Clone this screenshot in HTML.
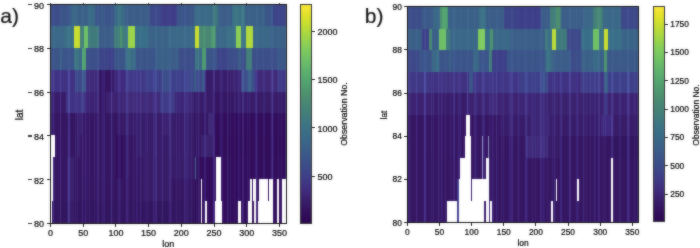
<!DOCTYPE html>
<html><head><meta charset="utf-8"><style>
html,body{margin:0;padding:0;background:#fff;}
body{width:700px;height:248px;position:relative;overflow:hidden;font-family:'Liberation Sans', sans-serif;}
.t{position:absolute;line-height:1;color:#000;white-space:nowrap;font-family:'Liberation Sans',sans-serif;filter:grayscale(1);-webkit-text-stroke:0.2px #000;}
</style></head><body>
<svg width="0" height="0" style="position:absolute"><filter id="fb" x="0" y="0" width="100%" height="100%" color-interpolation-filters="sRGB"><feGaussianBlur in="SourceGraphic" stdDeviation="0.8" result="b"/><feComposite in="b" in2="SourceGraphic" operator="arithmetic" k1="0" k2="0.5" k3="0.5" k4="0"/></filter></svg><div id="w" style="position:absolute;left:0;top:0;width:700px;height:248px;filter:url(#fb)">
<div style="position:absolute;left:50.50px;top:4.45px;width:235.50px;height:218.90px;overflow:hidden"><svg width="235.50" height="218.90" viewBox="0 0 235.50 218.90" style="position:absolute;left:0;top:0"><defs><linearGradient id="hm1_0" x1="0" y1="0" x2="1" y2="0"><stop offset="0.00000" stop-color="#3c4e89"/><stop offset="0.03611" stop-color="#3c4e89"/><stop offset="0.03611" stop-color="#3b5589"/><stop offset="0.08333" stop-color="#3b5589"/><stop offset="0.08333" stop-color="#3a6787"/><stop offset="0.10833" stop-color="#3a6787"/><stop offset="0.10833" stop-color="#3b6188"/><stop offset="0.15556" stop-color="#3b6188"/><stop offset="0.15556" stop-color="#3a6b87"/><stop offset="0.18611" stop-color="#3a6b87"/><stop offset="0.18611" stop-color="#3b5589"/><stop offset="0.21111" stop-color="#3b5589"/><stop offset="0.21111" stop-color="#3b5f88"/><stop offset="0.21944" stop-color="#3b5f88"/><stop offset="0.21944" stop-color="#3b5589"/><stop offset="0.26667" stop-color="#3b5589"/><stop offset="0.26667" stop-color="#3a6b87"/><stop offset="0.28611" stop-color="#3a6b87"/><stop offset="0.28611" stop-color="#3d7484"/><stop offset="0.29722" stop-color="#3d7484"/><stop offset="0.29722" stop-color="#3a6b87"/><stop offset="0.31389" stop-color="#3a6b87"/><stop offset="0.31389" stop-color="#3b5d88"/><stop offset="0.42222" stop-color="#3b5d88"/><stop offset="0.42222" stop-color="#3d4989"/><stop offset="0.46667" stop-color="#3d4989"/><stop offset="0.46667" stop-color="#3f3d87"/><stop offset="0.53333" stop-color="#3f3d87"/><stop offset="0.53333" stop-color="#3b5589"/><stop offset="0.60556" stop-color="#3b5589"/><stop offset="0.60556" stop-color="#3a6b87"/><stop offset="0.68889" stop-color="#3a6b87"/><stop offset="0.68889" stop-color="#407a7c"/><stop offset="0.70556" stop-color="#407a7c"/><stop offset="0.70556" stop-color="#3a6b87"/><stop offset="0.71389" stop-color="#3a6b87"/><stop offset="0.71389" stop-color="#3b5d88"/><stop offset="0.76944" stop-color="#3b5d88"/><stop offset="0.76944" stop-color="#3b6f86"/><stop offset="0.78056" stop-color="#3b6f86"/><stop offset="0.78056" stop-color="#3e7683"/><stop offset="0.79444" stop-color="#3e7683"/><stop offset="0.79444" stop-color="#3b6f86"/><stop offset="0.80833" stop-color="#3b6f86"/><stop offset="0.80833" stop-color="#3e7683"/><stop offset="0.81944" stop-color="#3e7683"/><stop offset="0.81944" stop-color="#3b6f86"/><stop offset="0.82222" stop-color="#3b6f86"/><stop offset="0.82222" stop-color="#3b6188"/><stop offset="0.90833" stop-color="#3b6188"/><stop offset="0.90833" stop-color="#3b5589"/><stop offset="0.94444" stop-color="#3b5589"/><stop offset="0.94444" stop-color="#3d4588"/><stop offset="1.00000" stop-color="#3d4588"/></linearGradient><linearGradient id="hm1_1" x1="0" y1="0" x2="1" y2="0"><stop offset="0.00000" stop-color="#3a6787"/><stop offset="0.06111" stop-color="#3a6787"/><stop offset="0.06111" stop-color="#3b7186"/><stop offset="0.09722" stop-color="#3b7186"/><stop offset="0.09722" stop-color="#cade2f"/><stop offset="0.12361" stop-color="#cade2f"/><stop offset="0.12361" stop-color="#427e7a"/><stop offset="0.13889" stop-color="#427e7a"/><stop offset="0.13889" stop-color="#6ec066"/><stop offset="0.15694" stop-color="#6ec066"/><stop offset="0.15694" stop-color="#407a7c"/><stop offset="0.20417" stop-color="#407a7c"/><stop offset="0.20417" stop-color="#3b5d88"/><stop offset="0.26667" stop-color="#3b5d88"/><stop offset="0.26667" stop-color="#427e7a"/><stop offset="0.29167" stop-color="#427e7a"/><stop offset="0.29167" stop-color="#4e936e"/><stop offset="0.30278" stop-color="#4e936e"/><stop offset="0.30278" stop-color="#427e7a"/><stop offset="0.31389" stop-color="#427e7a"/><stop offset="0.31389" stop-color="#3d7484"/><stop offset="0.32778" stop-color="#3d7484"/><stop offset="0.32778" stop-color="#9dd548"/><stop offset="0.35694" stop-color="#9dd548"/><stop offset="0.35694" stop-color="#396e88"/><stop offset="0.41111" stop-color="#396e88"/><stop offset="0.41111" stop-color="#3b6388"/><stop offset="0.49722" stop-color="#3b6388"/><stop offset="0.49722" stop-color="#3a6987"/><stop offset="0.61111" stop-color="#3a6987"/><stop offset="0.61111" stop-color="#cade2f"/><stop offset="0.62639" stop-color="#cade2f"/><stop offset="0.62639" stop-color="#488773"/><stop offset="0.64444" stop-color="#488773"/><stop offset="0.64444" stop-color="#4e936e"/><stop offset="0.65556" stop-color="#4e936e"/><stop offset="0.65556" stop-color="#488773"/><stop offset="0.68056" stop-color="#488773"/><stop offset="0.68056" stop-color="#4f9a6f"/><stop offset="0.69722" stop-color="#4f9a6f"/><stop offset="0.69722" stop-color="#488773"/><stop offset="0.70000" stop-color="#488773"/><stop offset="0.70000" stop-color="#3a6987"/><stop offset="0.75278" stop-color="#3a6987"/><stop offset="0.75278" stop-color="#3b7186"/><stop offset="0.78750" stop-color="#3b7186"/><stop offset="0.78750" stop-color="#8bd055"/><stop offset="0.80556" stop-color="#8bd055"/><stop offset="0.80556" stop-color="#3d7484"/><stop offset="0.82639" stop-color="#3d7484"/><stop offset="0.82639" stop-color="#b1d93d"/><stop offset="0.85972" stop-color="#b1d93d"/><stop offset="0.85972" stop-color="#3a6787"/><stop offset="0.93056" stop-color="#3a6787"/><stop offset="0.93056" stop-color="#3b6188"/><stop offset="1.00000" stop-color="#3b6188"/></linearGradient><linearGradient id="hm1_2" x1="0" y1="0" x2="1" y2="0"><stop offset="0.00000" stop-color="#3b5589"/><stop offset="0.03611" stop-color="#3b5589"/><stop offset="0.03611" stop-color="#3b6188"/><stop offset="0.04722" stop-color="#3b6188"/><stop offset="0.04722" stop-color="#3b5589"/><stop offset="0.09722" stop-color="#3b5589"/><stop offset="0.09722" stop-color="#3d7484"/><stop offset="0.12083" stop-color="#3d7484"/><stop offset="0.12083" stop-color="#3a6787"/><stop offset="0.13333" stop-color="#3a6787"/><stop offset="0.13333" stop-color="#53a470"/><stop offset="0.15000" stop-color="#53a470"/><stop offset="0.15000" stop-color="#3c5089"/><stop offset="0.20278" stop-color="#3c5089"/><stop offset="0.20278" stop-color="#3d4588"/><stop offset="0.24444" stop-color="#3d4588"/><stop offset="0.24444" stop-color="#3e4088"/><stop offset="0.26667" stop-color="#3e4088"/><stop offset="0.26667" stop-color="#3b5589"/><stop offset="0.31389" stop-color="#3b5589"/><stop offset="0.31389" stop-color="#3a6b87"/><stop offset="0.32500" stop-color="#3a6b87"/><stop offset="0.32500" stop-color="#3d7484"/><stop offset="0.33889" stop-color="#3d7484"/><stop offset="0.33889" stop-color="#3a6b87"/><stop offset="0.36250" stop-color="#3a6b87"/><stop offset="0.36250" stop-color="#3b5589"/><stop offset="0.44444" stop-color="#3b5589"/><stop offset="0.44444" stop-color="#3b6188"/><stop offset="0.50556" stop-color="#3b6188"/><stop offset="0.50556" stop-color="#3b5d88"/><stop offset="0.54444" stop-color="#3b5d88"/><stop offset="0.54444" stop-color="#3c4e89"/><stop offset="0.61111" stop-color="#3c4e89"/><stop offset="0.61111" stop-color="#3d7484"/><stop offset="0.62778" stop-color="#3d7484"/><stop offset="0.62778" stop-color="#3a6787"/><stop offset="0.64167" stop-color="#3a6787"/><stop offset="0.64167" stop-color="#4f9a6f"/><stop offset="0.65833" stop-color="#4f9a6f"/><stop offset="0.65833" stop-color="#3b5589"/><stop offset="0.70278" stop-color="#3b5589"/><stop offset="0.70278" stop-color="#3d4588"/><stop offset="0.75278" stop-color="#3d4588"/><stop offset="0.75278" stop-color="#3c4e89"/><stop offset="0.79444" stop-color="#3c4e89"/><stop offset="0.79444" stop-color="#3b6188"/><stop offset="0.80556" stop-color="#3b6188"/><stop offset="0.80556" stop-color="#3c5089"/><stop offset="0.82917" stop-color="#3c5089"/><stop offset="0.82917" stop-color="#427e7a"/><stop offset="0.85278" stop-color="#427e7a"/><stop offset="0.85278" stop-color="#3c5089"/><stop offset="0.95833" stop-color="#3c5089"/><stop offset="0.95833" stop-color="#3b5889"/><stop offset="1.00000" stop-color="#3b5889"/></linearGradient><linearGradient id="hm1_3" x1="0" y1="0" x2="1" y2="0"><stop offset="0.00000" stop-color="#403282"/><stop offset="0.10000" stop-color="#403282"/><stop offset="0.10000" stop-color="#3d4989"/><stop offset="0.13333" stop-color="#3d4989"/><stop offset="0.13333" stop-color="#3b5a88"/><stop offset="0.14444" stop-color="#3b5a88"/><stop offset="0.14444" stop-color="#3d4989"/><stop offset="0.14722" stop-color="#3d4989"/><stop offset="0.14722" stop-color="#3f2978"/><stop offset="0.20278" stop-color="#3f2978"/><stop offset="0.20278" stop-color="#351662"/><stop offset="0.26944" stop-color="#351662"/><stop offset="0.26944" stop-color="#402c7e"/><stop offset="0.31389" stop-color="#402c7e"/><stop offset="0.31389" stop-color="#3f3785"/><stop offset="0.40278" stop-color="#3f3785"/><stop offset="0.40278" stop-color="#3e4088"/><stop offset="0.46944" stop-color="#3e4088"/><stop offset="0.46944" stop-color="#3c4e89"/><stop offset="0.50556" stop-color="#3c4e89"/><stop offset="0.50556" stop-color="#3e4088"/><stop offset="0.58611" stop-color="#3e4088"/><stop offset="0.58611" stop-color="#3d4989"/><stop offset="0.60556" stop-color="#3d4989"/><stop offset="0.60556" stop-color="#3b5a88"/><stop offset="0.61389" stop-color="#3b5a88"/><stop offset="0.61389" stop-color="#3d4989"/><stop offset="0.64167" stop-color="#3d4989"/><stop offset="0.64167" stop-color="#3b5a88"/><stop offset="0.65000" stop-color="#3b5a88"/><stop offset="0.65000" stop-color="#3d4989"/><stop offset="0.65278" stop-color="#3d4989"/><stop offset="0.65278" stop-color="#391e6a"/><stop offset="0.76389" stop-color="#391e6a"/><stop offset="0.76389" stop-color="#3c2471"/><stop offset="0.80833" stop-color="#3c2471"/><stop offset="0.80833" stop-color="#3c4e89"/><stop offset="0.83611" stop-color="#3c4e89"/><stop offset="0.83611" stop-color="#3b6188"/><stop offset="0.85278" stop-color="#3b6188"/><stop offset="0.85278" stop-color="#3c4e89"/><stop offset="0.86667" stop-color="#3c4e89"/><stop offset="0.86667" stop-color="#3f2978"/><stop offset="0.95833" stop-color="#3f2978"/><stop offset="0.95833" stop-color="#3f3785"/><stop offset="1.00000" stop-color="#3f3785"/></linearGradient><linearGradient id="hm1_4" x1="0" y1="0" x2="1" y2="0"><stop offset="0.00000" stop-color="#391e6a"/><stop offset="0.06389" stop-color="#391e6a"/><stop offset="0.06389" stop-color="#403282"/><stop offset="0.12222" stop-color="#403282"/><stop offset="0.12222" stop-color="#3f3b86"/><stop offset="0.14167" stop-color="#3f3b86"/><stop offset="0.14167" stop-color="#403282"/><stop offset="0.14444" stop-color="#403282"/><stop offset="0.14444" stop-color="#3c2471"/><stop offset="0.20278" stop-color="#3c2471"/><stop offset="0.20278" stop-color="#351662"/><stop offset="0.23333" stop-color="#351662"/><stop offset="0.23333" stop-color="#3c2471"/><stop offset="0.30000" stop-color="#3c2471"/><stop offset="0.30000" stop-color="#3f2978"/><stop offset="0.46111" stop-color="#3f2978"/><stop offset="0.46111" stop-color="#3f3b86"/><stop offset="0.52778" stop-color="#3f3b86"/><stop offset="0.52778" stop-color="#3d2675"/><stop offset="0.60833" stop-color="#3d2675"/><stop offset="0.60833" stop-color="#391e6a"/><stop offset="0.68889" stop-color="#391e6a"/><stop offset="0.68889" stop-color="#351662"/><stop offset="0.77778" stop-color="#351662"/><stop offset="0.77778" stop-color="#391e6a"/><stop offset="0.86667" stop-color="#391e6a"/><stop offset="0.86667" stop-color="#381b67"/><stop offset="1.00000" stop-color="#381b67"/></linearGradient><linearGradient id="hm1_5" x1="0" y1="0" x2="1" y2="0"><stop offset="0.00000" stop-color="#351662"/><stop offset="0.10833" stop-color="#351662"/><stop offset="0.10833" stop-color="#3c2471"/><stop offset="0.13056" stop-color="#3c2471"/><stop offset="0.13056" stop-color="#361864"/><stop offset="0.30000" stop-color="#361864"/><stop offset="0.30000" stop-color="#391e6a"/><stop offset="0.47222" stop-color="#391e6a"/><stop offset="0.47222" stop-color="#3c2471"/><stop offset="0.50556" stop-color="#3c2471"/><stop offset="0.50556" stop-color="#391e6a"/><stop offset="0.60833" stop-color="#391e6a"/><stop offset="0.60833" stop-color="#351662"/><stop offset="0.66667" stop-color="#351662"/><stop offset="0.66667" stop-color="#3f2978"/><stop offset="0.68889" stop-color="#3f2978"/><stop offset="0.68889" stop-color="#32105c"/><stop offset="1.00000" stop-color="#32105c"/></linearGradient><linearGradient id="hm1_6" x1="0" y1="0" x2="1" y2="0"><stop offset="0.00000" stop-color="#ffffff"/><stop offset="0.01667" stop-color="#ffffff"/><stop offset="0.01667" stop-color="#361864"/><stop offset="0.10833" stop-color="#361864"/><stop offset="0.10833" stop-color="#3c2471"/><stop offset="0.12222" stop-color="#3c2471"/><stop offset="0.12222" stop-color="#361864"/><stop offset="0.27778" stop-color="#361864"/><stop offset="0.27778" stop-color="#32105c"/><stop offset="0.30556" stop-color="#32105c"/><stop offset="0.30556" stop-color="#361864"/><stop offset="0.36111" stop-color="#361864"/><stop offset="0.36111" stop-color="#391e6a"/><stop offset="0.60833" stop-color="#391e6a"/><stop offset="0.60833" stop-color="#361864"/><stop offset="0.63889" stop-color="#361864"/><stop offset="0.63889" stop-color="#3a216e"/><stop offset="0.68889" stop-color="#3a216e"/><stop offset="0.68889" stop-color="#361864"/><stop offset="0.69722" stop-color="#361864"/><stop offset="0.69722" stop-color="#310e5a"/><stop offset="1.00000" stop-color="#310e5a"/></linearGradient><linearGradient id="hm1_7" x1="0" y1="0" x2="1" y2="0"><stop offset="0.00000" stop-color="#ffffff"/><stop offset="0.00694" stop-color="#ffffff"/><stop offset="0.00694" stop-color="#361864"/><stop offset="0.06944" stop-color="#361864"/><stop offset="0.06944" stop-color="#3a216e"/><stop offset="0.09722" stop-color="#3a216e"/><stop offset="0.09722" stop-color="#361864"/><stop offset="0.27778" stop-color="#361864"/><stop offset="0.27778" stop-color="#32105c"/><stop offset="0.30556" stop-color="#32105c"/><stop offset="0.30556" stop-color="#361864"/><stop offset="0.38889" stop-color="#361864"/><stop offset="0.38889" stop-color="#381b67"/><stop offset="0.61111" stop-color="#381b67"/><stop offset="0.61111" stop-color="#32105c"/><stop offset="0.61250" stop-color="#32105c"/><stop offset="0.61250" stop-color="#3b6188"/><stop offset="0.61528" stop-color="#3b6188"/><stop offset="0.61528" stop-color="#32105c"/><stop offset="0.69861" stop-color="#32105c"/><stop offset="0.69861" stop-color="#ffffff"/><stop offset="0.72083" stop-color="#ffffff"/><stop offset="0.72083" stop-color="#32105c"/><stop offset="1.00000" stop-color="#32105c"/></linearGradient><linearGradient id="hm1_8" x1="0" y1="0" x2="1" y2="0"><stop offset="0.00000" stop-color="#ffffff"/><stop offset="0.00694" stop-color="#ffffff"/><stop offset="0.00694" stop-color="#351662"/><stop offset="0.06944" stop-color="#351662"/><stop offset="0.06944" stop-color="#3a216e"/><stop offset="0.09722" stop-color="#3a216e"/><stop offset="0.09722" stop-color="#351662"/><stop offset="0.38889" stop-color="#351662"/><stop offset="0.38889" stop-color="#381b67"/><stop offset="0.50556" stop-color="#381b67"/><stop offset="0.50556" stop-color="#351662"/><stop offset="0.61111" stop-color="#351662"/><stop offset="0.61111" stop-color="#32105c"/><stop offset="0.63611" stop-color="#32105c"/><stop offset="0.63611" stop-color="#ffffff"/><stop offset="0.64306" stop-color="#ffffff"/><stop offset="0.64306" stop-color="#32105c"/><stop offset="0.69861" stop-color="#32105c"/><stop offset="0.69861" stop-color="#ffffff"/><stop offset="0.72083" stop-color="#ffffff"/><stop offset="0.72083" stop-color="#32105c"/><stop offset="0.84306" stop-color="#32105c"/><stop offset="0.84306" stop-color="#ffffff"/><stop offset="0.85556" stop-color="#ffffff"/><stop offset="0.85556" stop-color="#32105c"/><stop offset="0.85972" stop-color="#32105c"/><stop offset="0.85972" stop-color="#ffffff"/><stop offset="0.87083" stop-color="#ffffff"/><stop offset="0.87083" stop-color="#32105c"/><stop offset="0.88333" stop-color="#32105c"/><stop offset="0.88333" stop-color="#ffffff"/><stop offset="0.92222" stop-color="#ffffff"/><stop offset="0.92222" stop-color="#32105c"/><stop offset="0.92639" stop-color="#32105c"/><stop offset="0.92639" stop-color="#ffffff"/><stop offset="0.94444" stop-color="#ffffff"/><stop offset="0.94444" stop-color="#32105c"/><stop offset="0.96111" stop-color="#32105c"/><stop offset="0.96111" stop-color="#ffffff"/><stop offset="0.96806" stop-color="#ffffff"/><stop offset="0.96806" stop-color="#32105c"/><stop offset="0.98056" stop-color="#32105c"/><stop offset="0.98056" stop-color="#ffffff"/><stop offset="1.00000" stop-color="#ffffff"/></linearGradient><linearGradient id="hm1_9" x1="0" y1="0" x2="1" y2="0"><stop offset="0.00000" stop-color="#ffffff"/><stop offset="0.00417" stop-color="#ffffff"/><stop offset="0.00417" stop-color="#33135f"/><stop offset="0.06944" stop-color="#33135f"/><stop offset="0.06944" stop-color="#381b67"/><stop offset="0.09722" stop-color="#381b67"/><stop offset="0.09722" stop-color="#33135f"/><stop offset="0.61111" stop-color="#33135f"/><stop offset="0.61111" stop-color="#32105c"/><stop offset="0.63611" stop-color="#32105c"/><stop offset="0.63611" stop-color="#ffffff"/><stop offset="0.64306" stop-color="#ffffff"/><stop offset="0.64306" stop-color="#32105c"/><stop offset="0.65417" stop-color="#32105c"/><stop offset="0.65417" stop-color="#ffffff"/><stop offset="0.66250" stop-color="#ffffff"/><stop offset="0.66250" stop-color="#32105c"/><stop offset="0.69722" stop-color="#32105c"/><stop offset="0.69722" stop-color="#ffffff"/><stop offset="0.72639" stop-color="#ffffff"/><stop offset="0.72639" stop-color="#32105c"/><stop offset="0.79444" stop-color="#32105c"/><stop offset="0.79444" stop-color="#ffffff"/><stop offset="0.80833" stop-color="#ffffff"/><stop offset="0.80833" stop-color="#32105c"/><stop offset="0.83750" stop-color="#32105c"/><stop offset="0.83750" stop-color="#ffffff"/><stop offset="0.85556" stop-color="#ffffff"/><stop offset="0.85556" stop-color="#32105c"/><stop offset="0.86250" stop-color="#32105c"/><stop offset="0.86250" stop-color="#ffffff"/><stop offset="0.87083" stop-color="#ffffff"/><stop offset="0.87083" stop-color="#32105c"/><stop offset="0.87778" stop-color="#32105c"/><stop offset="0.87778" stop-color="#ffffff"/><stop offset="0.94444" stop-color="#ffffff"/><stop offset="0.94444" stop-color="#32105c"/><stop offset="0.96111" stop-color="#32105c"/><stop offset="0.96111" stop-color="#ffffff"/><stop offset="0.96806" stop-color="#ffffff"/><stop offset="0.96806" stop-color="#32105c"/><stop offset="0.98056" stop-color="#32105c"/><stop offset="0.98056" stop-color="#ffffff"/><stop offset="1.00000" stop-color="#ffffff"/></linearGradient><pattern id="hm1_pa" width="29" height="1" patternUnits="userSpaceOnUse"><rect x="2.0" y="0" width="1.2" height="1" fill="#12162a"/><rect x="9.0" y="0" width="0.8" height="1" fill="#0d1122"/><rect x="17.0" y="0" width="2.0" height="1" fill="#10142a"/><rect x="24.0" y="0" width="1.0" height="1" fill="#0a0e1c"/></pattern><pattern id="hm1_pb" width="17" height="1" patternUnits="userSpaceOnUse" x="5"><rect x="4.0" y="0" width="1.0" height="1" fill="#080b1a"/><rect x="12.0" y="0" width="1.5" height="1" fill="#0b1028"/></pattern><filter id="hm1_bl" x="-2%" y="-2%" width="104%" height="104%"><feGaussianBlur stdDeviation="0.60"/></filter></defs><g filter="url(#hm1_bl)"><rect x="0" y="0.000" width="235.500" height="22.490" fill="url(#hm1_0)" shape-rendering="crispEdges"/><rect x="0" y="21.890" width="235.500" height="22.490" fill="url(#hm1_1)" shape-rendering="crispEdges"/><rect x="0" y="43.780" width="235.500" height="22.490" fill="url(#hm1_2)" shape-rendering="crispEdges"/><rect x="0" y="65.670" width="235.500" height="22.490" fill="url(#hm1_3)" shape-rendering="crispEdges"/><rect x="0" y="87.560" width="235.500" height="22.490" fill="url(#hm1_4)" shape-rendering="crispEdges"/><rect x="0" y="109.450" width="235.500" height="22.490" fill="url(#hm1_5)" shape-rendering="crispEdges"/><rect x="0" y="131.340" width="235.500" height="22.490" fill="url(#hm1_6)" shape-rendering="crispEdges"/><rect x="0" y="153.230" width="235.500" height="22.490" fill="url(#hm1_7)" shape-rendering="crispEdges"/><rect x="0" y="175.120" width="235.500" height="22.490" fill="url(#hm1_8)" shape-rendering="crispEdges"/><rect x="0" y="197.010" width="235.500" height="21.890" fill="url(#hm1_9)" shape-rendering="crispEdges"/><rect x="0" y="65.67" width="235.50" height="153.23" fill="url(#hm1_pa)" style="mix-blend-mode:screen"/><rect x="0" y="65.67" width="235.50" height="153.23" fill="url(#hm1_pb)" style="mix-blend-mode:screen"/><rect x="0" y="0" width="235.50" height="65.67" fill="url(#hm1_pa)" style="mix-blend-mode:screen" opacity="0.45"/></g></svg></div>
<div style="position:absolute;left:50.00px;top:3.95px;width:236.50px;height:219.90px;border:1px solid #111;box-sizing:border-box"></div>
<div style="position:absolute;left:47.00px;top:3.95px;width:3px;height:1px;background:#222"></div>
<div class="t" style="right:656.00px;top:5.55px;font-size:9.00px;transform:translateY(-50%)">90</div>
<div style="position:absolute;left:28.10px;top:4.15px;width:3.6px;height:1.1px;background:#333"></div>
<div style="position:absolute;left:47.00px;top:47.73px;width:3px;height:1px;background:#222"></div>
<div class="t" style="right:656.00px;top:49.33px;font-size:9.00px;transform:translateY(-50%)">88</div>
<div style="position:absolute;left:28.10px;top:47.93px;width:3.6px;height:1.1px;background:#333"></div>
<div style="position:absolute;left:47.00px;top:91.51px;width:3px;height:1px;background:#222"></div>
<div class="t" style="right:656.00px;top:93.11px;font-size:9.00px;transform:translateY(-50%)">86</div>
<div style="position:absolute;left:28.10px;top:91.71px;width:3.6px;height:1.1px;background:#333"></div>
<div style="position:absolute;left:47.00px;top:135.29px;width:3px;height:1px;background:#222"></div>
<div class="t" style="right:656.00px;top:136.89px;font-size:9.00px;transform:translateY(-50%)">84</div>
<div style="position:absolute;left:28.10px;top:135.49px;width:3.6px;height:1.1px;background:#333"></div>
<div style="position:absolute;left:47.00px;top:179.07px;width:3px;height:1px;background:#222"></div>
<div class="t" style="right:656.00px;top:180.67px;font-size:9.00px;transform:translateY(-50%)">82</div>
<div style="position:absolute;left:28.10px;top:179.27px;width:3.6px;height:1.1px;background:#333"></div>
<div style="position:absolute;left:47.00px;top:222.85px;width:3px;height:1px;background:#222"></div>
<div class="t" style="right:656.00px;top:224.45px;font-size:9.00px;transform:translateY(-50%)">80</div>
<div style="position:absolute;left:28.10px;top:223.05px;width:3.6px;height:1.1px;background:#333"></div>
<div style="position:absolute;left:50.00px;top:223.85px;width:1px;height:3px;background:#222"></div>
<div class="t" style="left:50.50px;top:229.00px;font-size:9.00px;transform:translateX(-50%)">0</div>
<div style="position:absolute;left:82.71px;top:223.85px;width:1px;height:3px;background:#222"></div>
<div class="t" style="left:83.21px;top:229.00px;font-size:9.00px;transform:translateX(-50%)">50</div>
<div style="position:absolute;left:115.42px;top:223.85px;width:1px;height:3px;background:#222"></div>
<div class="t" style="left:115.92px;top:229.00px;font-size:9.00px;transform:translateX(-50%)">100</div>
<div style="position:absolute;left:148.12px;top:223.85px;width:1px;height:3px;background:#222"></div>
<div class="t" style="left:148.62px;top:229.00px;font-size:9.00px;transform:translateX(-50%)">150</div>
<div style="position:absolute;left:180.83px;top:223.85px;width:1px;height:3px;background:#222"></div>
<div class="t" style="left:181.33px;top:229.00px;font-size:9.00px;transform:translateX(-50%)">200</div>
<div style="position:absolute;left:213.54px;top:223.85px;width:1px;height:3px;background:#222"></div>
<div class="t" style="left:214.04px;top:229.00px;font-size:9.00px;transform:translateX(-50%)">250</div>
<div style="position:absolute;left:246.25px;top:223.85px;width:1px;height:3px;background:#222"></div>
<div class="t" style="left:246.75px;top:229.00px;font-size:9.00px;transform:translateX(-50%)">300</div>
<div style="position:absolute;left:278.96px;top:223.85px;width:1px;height:3px;background:#222"></div>
<div class="t" style="left:279.46px;top:229.00px;font-size:9.00px;transform:translateX(-50%)">350</div>
<div style="position:absolute;left:50.00px;top:2.65px;width:1px;height:1.5px;background:#333"></div>
<div style="position:absolute;left:82.71px;top:2.65px;width:1px;height:1.5px;background:#333"></div>
<div style="position:absolute;left:115.42px;top:2.65px;width:1px;height:1.5px;background:#333"></div>
<div style="position:absolute;left:148.12px;top:2.65px;width:1px;height:1.5px;background:#333"></div>
<div style="position:absolute;left:180.83px;top:2.65px;width:1px;height:1.5px;background:#333"></div>
<div style="position:absolute;left:213.54px;top:2.65px;width:1px;height:1.5px;background:#333"></div>
<div style="position:absolute;left:246.25px;top:2.65px;width:1px;height:1.5px;background:#333"></div>
<div style="position:absolute;left:278.96px;top:2.65px;width:1px;height:1.5px;background:#333"></div>
<div class="t" style="left:168.25px;top:239.50px;font-size:9.00px;transform:translateX(-50%)">lon</div>
<div class="t" style="left:19.50px;top:115.10px;font-size:10.00px;transform:translate(-50%,-50%) rotate(-90deg)">lat</div>
<div style="position:absolute;left:300.20px;top:4.50px;width:11.30px;height:218.50px;background:linear-gradient(to bottom,#fae637 0.0%,#dde12a 5.0%,#bddc35 10.0%,#9dd548 15.0%,#80cc5d 20.0%,#6ec066 25.0%,#5eb26d 30.0%,#53a470 35.0%,#4e936e 40.0%,#488773 45.0%,#427e7a 50.0%,#3d7484 55.0%,#3a6b87 60.0%,#3b6188 65.0%,#3b5589 70.0%,#3d4989 75.0%,#3f3b86 80.0%,#402c7e 85.0%,#391e6a 90.0%,#32105c 95.0%,#2c0650 100.0%)"></div>
<div style="position:absolute;left:299.70px;top:4.00px;width:12.30px;height:219.50px;border:1px solid #333;box-sizing:border-box"></div>
<div style="position:absolute;left:312.00px;top:30.50px;width:3px;height:1px;background:#222"></div>
<div class="t" style="left:317.50px;top:31.80px;font-size:9.00px;transform:translateY(-50%)">2000</div>
<div style="position:absolute;left:312.00px;top:78.90px;width:3px;height:1px;background:#222"></div>
<div class="t" style="left:317.50px;top:80.20px;font-size:9.00px;transform:translateY(-50%)">1500</div>
<div style="position:absolute;left:312.00px;top:127.20px;width:3px;height:1px;background:#222"></div>
<div class="t" style="left:317.50px;top:128.50px;font-size:9.00px;transform:translateY(-50%)">1000</div>
<div style="position:absolute;left:312.00px;top:175.80px;width:3px;height:1px;background:#222"></div>
<div class="t" style="left:317.50px;top:177.10px;font-size:9.00px;transform:translateY(-50%)">500</div>
<div class="t" style="left:344.00px;top:114.15px;font-size:8.80px;transform:translate(-50%,-50%) rotate(-90deg)">Observation No.</div>
<div style="position:absolute;left:407.30px;top:6.90px;width:231.50px;height:215.30px;overflow:hidden"><svg width="231.50" height="215.30" viewBox="0 0 231.50 215.30" style="position:absolute;left:0;top:0"><defs><linearGradient id="hm2_0" x1="0" y1="0" x2="1" y2="0"><stop offset="0.00000" stop-color="#3c4e89"/><stop offset="0.06389" stop-color="#3c4e89"/><stop offset="0.06389" stop-color="#3b5a88"/><stop offset="0.11250" stop-color="#3b5a88"/><stop offset="0.11250" stop-color="#3a6787"/><stop offset="0.14306" stop-color="#3a6787"/><stop offset="0.14306" stop-color="#4e936e"/><stop offset="0.15000" stop-color="#4e936e"/><stop offset="0.15000" stop-color="#53a470"/><stop offset="0.17222" stop-color="#53a470"/><stop offset="0.17222" stop-color="#4e936e"/><stop offset="0.17917" stop-color="#4e936e"/><stop offset="0.17917" stop-color="#3b6188"/><stop offset="0.31111" stop-color="#3b6188"/><stop offset="0.31111" stop-color="#3b6f86"/><stop offset="0.34167" stop-color="#3b6f86"/><stop offset="0.34167" stop-color="#3b5d88"/><stop offset="0.41944" stop-color="#3b5d88"/><stop offset="0.41944" stop-color="#3d4588"/><stop offset="0.47222" stop-color="#3d4588"/><stop offset="0.47222" stop-color="#3e4088"/><stop offset="0.58056" stop-color="#3e4088"/><stop offset="0.58056" stop-color="#3b5d88"/><stop offset="0.61667" stop-color="#3b5d88"/><stop offset="0.61667" stop-color="#427e7a"/><stop offset="0.64167" stop-color="#427e7a"/><stop offset="0.64167" stop-color="#4e8d6e"/><stop offset="0.66111" stop-color="#4e8d6e"/><stop offset="0.66111" stop-color="#427e7a"/><stop offset="0.66667" stop-color="#427e7a"/><stop offset="0.66667" stop-color="#3b5f88"/><stop offset="0.76667" stop-color="#3b5f88"/><stop offset="0.76667" stop-color="#3a6787"/><stop offset="0.80278" stop-color="#3a6787"/><stop offset="0.80278" stop-color="#427e7a"/><stop offset="0.81667" stop-color="#427e7a"/><stop offset="0.81667" stop-color="#488773"/><stop offset="0.83611" stop-color="#488773"/><stop offset="0.83611" stop-color="#427e7a"/><stop offset="0.84583" stop-color="#427e7a"/><stop offset="0.84583" stop-color="#3a6787"/><stop offset="0.92500" stop-color="#3a6787"/><stop offset="0.92500" stop-color="#3d4989"/><stop offset="1.00000" stop-color="#3d4989"/></linearGradient><linearGradient id="hm2_1" x1="0" y1="0" x2="1" y2="0"><stop offset="0.00000" stop-color="#3b6188"/><stop offset="0.06389" stop-color="#3b6188"/><stop offset="0.06389" stop-color="#3e4088"/><stop offset="0.09444" stop-color="#3e4088"/><stop offset="0.09444" stop-color="#488773"/><stop offset="0.10694" stop-color="#488773"/><stop offset="0.10694" stop-color="#3b6188"/><stop offset="0.13750" stop-color="#3b6188"/><stop offset="0.13750" stop-color="#6ec066"/><stop offset="0.16806" stop-color="#6ec066"/><stop offset="0.16806" stop-color="#407a7c"/><stop offset="0.18611" stop-color="#407a7c"/><stop offset="0.18611" stop-color="#3a6787"/><stop offset="0.30833" stop-color="#3a6787"/><stop offset="0.30833" stop-color="#80cc5d"/><stop offset="0.33750" stop-color="#80cc5d"/><stop offset="0.33750" stop-color="#396e88"/><stop offset="0.35694" stop-color="#396e88"/><stop offset="0.35694" stop-color="#4e936e"/><stop offset="0.37083" stop-color="#4e936e"/><stop offset="0.37083" stop-color="#3a6787"/><stop offset="0.44444" stop-color="#3a6787"/><stop offset="0.44444" stop-color="#3b5f88"/><stop offset="0.59444" stop-color="#3b5f88"/><stop offset="0.59444" stop-color="#427e7a"/><stop offset="0.60556" stop-color="#427e7a"/><stop offset="0.60556" stop-color="#3b7186"/><stop offset="0.62639" stop-color="#3b7186"/><stop offset="0.62639" stop-color="#bddc35"/><stop offset="0.64167" stop-color="#bddc35"/><stop offset="0.64167" stop-color="#407a7c"/><stop offset="0.69028" stop-color="#407a7c"/><stop offset="0.69028" stop-color="#3d4989"/><stop offset="0.75139" stop-color="#3d4989"/><stop offset="0.75139" stop-color="#396e88"/><stop offset="0.80278" stop-color="#396e88"/><stop offset="0.80278" stop-color="#6ec066"/><stop offset="0.82778" stop-color="#6ec066"/><stop offset="0.82778" stop-color="#3d7484"/><stop offset="0.85000" stop-color="#3d7484"/><stop offset="0.85000" stop-color="#cade2f"/><stop offset="0.86667" stop-color="#cade2f"/><stop offset="0.86667" stop-color="#396e88"/><stop offset="0.93056" stop-color="#396e88"/><stop offset="0.93056" stop-color="#3b6388"/><stop offset="1.00000" stop-color="#3b6388"/></linearGradient><linearGradient id="hm2_2" x1="0" y1="0" x2="1" y2="0"><stop offset="0.00000" stop-color="#3d4989"/><stop offset="0.05278" stop-color="#3d4989"/><stop offset="0.05278" stop-color="#3b5589"/><stop offset="0.10694" stop-color="#3b5589"/><stop offset="0.10694" stop-color="#3a6787"/><stop offset="0.12500" stop-color="#3a6787"/><stop offset="0.12500" stop-color="#3b6f86"/><stop offset="0.13750" stop-color="#3b6f86"/><stop offset="0.13750" stop-color="#3b5589"/><stop offset="0.18056" stop-color="#3b5589"/><stop offset="0.18056" stop-color="#3b6388"/><stop offset="0.19167" stop-color="#3b6388"/><stop offset="0.19167" stop-color="#3b5589"/><stop offset="0.28611" stop-color="#3b5589"/><stop offset="0.28611" stop-color="#3a6787"/><stop offset="0.31111" stop-color="#3a6787"/><stop offset="0.31111" stop-color="#3b5589"/><stop offset="0.35278" stop-color="#3b5589"/><stop offset="0.35278" stop-color="#427e7a"/><stop offset="0.36528" stop-color="#427e7a"/><stop offset="0.36528" stop-color="#3e4088"/><stop offset="0.43194" stop-color="#3e4088"/><stop offset="0.43194" stop-color="#3b5589"/><stop offset="0.59444" stop-color="#3b5589"/><stop offset="0.59444" stop-color="#3a6b87"/><stop offset="0.60556" stop-color="#3a6b87"/><stop offset="0.60556" stop-color="#3d7484"/><stop offset="0.61667" stop-color="#3d7484"/><stop offset="0.61667" stop-color="#3a6b87"/><stop offset="0.63056" stop-color="#3a6b87"/><stop offset="0.63056" stop-color="#3b5d88"/><stop offset="0.70278" stop-color="#3b5d88"/><stop offset="0.70278" stop-color="#3c4e89"/><stop offset="0.75000" stop-color="#3c4e89"/><stop offset="0.75000" stop-color="#3b6188"/><stop offset="0.80278" stop-color="#3b6188"/><stop offset="0.80278" stop-color="#3a6b87"/><stop offset="0.82778" stop-color="#3a6b87"/><stop offset="0.82778" stop-color="#3b6188"/><stop offset="0.85000" stop-color="#3b6188"/><stop offset="0.85000" stop-color="#4e936e"/><stop offset="0.86389" stop-color="#4e936e"/><stop offset="0.86389" stop-color="#3b5a88"/><stop offset="1.00000" stop-color="#3b5a88"/></linearGradient><linearGradient id="hm2_3" x1="0" y1="0" x2="1" y2="0"><stop offset="0.00000" stop-color="#3f3785"/><stop offset="0.09583" stop-color="#3f3785"/><stop offset="0.09583" stop-color="#403080"/><stop offset="0.26944" stop-color="#403080"/><stop offset="0.26944" stop-color="#3b5589"/><stop offset="0.28333" stop-color="#3b5589"/><stop offset="0.28333" stop-color="#403584"/><stop offset="0.48611" stop-color="#403584"/><stop offset="0.48611" stop-color="#3e4088"/><stop offset="0.57500" stop-color="#3e4088"/><stop offset="0.57500" stop-color="#3d4989"/><stop offset="0.58611" stop-color="#3d4989"/><stop offset="0.58611" stop-color="#3b5589"/><stop offset="0.59722" stop-color="#3b5589"/><stop offset="0.59722" stop-color="#3d4989"/><stop offset="0.60833" stop-color="#3d4989"/><stop offset="0.60833" stop-color="#403282"/><stop offset="0.73056" stop-color="#403282"/><stop offset="0.73056" stop-color="#3d2675"/><stop offset="0.74722" stop-color="#3d2675"/><stop offset="0.74722" stop-color="#3f3d87"/><stop offset="0.83611" stop-color="#3f3d87"/><stop offset="0.83611" stop-color="#403282"/><stop offset="0.85278" stop-color="#403282"/><stop offset="0.85278" stop-color="#3b6188"/><stop offset="0.86944" stop-color="#3b6188"/><stop offset="0.86944" stop-color="#3e4088"/><stop offset="1.00000" stop-color="#3e4088"/></linearGradient><linearGradient id="hm2_4" x1="0" y1="0" x2="1" y2="0"><stop offset="0.00000" stop-color="#3c2471"/><stop offset="0.12222" stop-color="#3c2471"/><stop offset="0.12222" stop-color="#391e6a"/><stop offset="0.25278" stop-color="#391e6a"/><stop offset="0.25278" stop-color="#3c2471"/><stop offset="0.35556" stop-color="#3c2471"/><stop offset="0.35556" stop-color="#3f2978"/><stop offset="0.39167" stop-color="#3f2978"/><stop offset="0.39167" stop-color="#3c2471"/><stop offset="0.48611" stop-color="#3c2471"/><stop offset="0.48611" stop-color="#3d2675"/><stop offset="0.60833" stop-color="#3d2675"/><stop offset="0.60833" stop-color="#3a216e"/><stop offset="0.85278" stop-color="#3a216e"/><stop offset="0.85278" stop-color="#403584"/><stop offset="0.86944" stop-color="#403584"/><stop offset="0.86944" stop-color="#3c2471"/><stop offset="1.00000" stop-color="#3c2471"/></linearGradient><linearGradient id="hm2_5" x1="0" y1="0" x2="1" y2="0"><stop offset="0.00000" stop-color="#361864"/><stop offset="0.25278" stop-color="#361864"/><stop offset="0.25278" stop-color="#ffffff"/><stop offset="0.27361" stop-color="#ffffff"/><stop offset="0.27361" stop-color="#361864"/><stop offset="0.40000" stop-color="#361864"/><stop offset="0.40000" stop-color="#391e6a"/><stop offset="0.53056" stop-color="#391e6a"/><stop offset="0.53056" stop-color="#3d2675"/><stop offset="0.61667" stop-color="#3d2675"/><stop offset="0.61667" stop-color="#391e6a"/><stop offset="0.83611" stop-color="#391e6a"/><stop offset="0.83611" stop-color="#402c7e"/><stop offset="0.88889" stop-color="#402c7e"/><stop offset="0.88889" stop-color="#381b67"/><stop offset="1.00000" stop-color="#381b67"/></linearGradient><linearGradient id="hm2_6" x1="0" y1="0" x2="1" y2="0"><stop offset="0.00000" stop-color="#361864"/><stop offset="0.25000" stop-color="#361864"/><stop offset="0.25000" stop-color="#ffffff"/><stop offset="0.27639" stop-color="#ffffff"/><stop offset="0.27639" stop-color="#361864"/><stop offset="0.32361" stop-color="#361864"/><stop offset="0.32361" stop-color="#8f86b8"/><stop offset="0.32639" stop-color="#8f86b8"/><stop offset="0.32639" stop-color="#361864"/><stop offset="0.35000" stop-color="#361864"/><stop offset="0.35000" stop-color="#8f86b8"/><stop offset="0.35278" stop-color="#8f86b8"/><stop offset="0.35278" stop-color="#361864"/><stop offset="0.51389" stop-color="#361864"/><stop offset="0.51389" stop-color="#3f2978"/><stop offset="0.60833" stop-color="#3f2978"/><stop offset="0.60833" stop-color="#381b67"/><stop offset="0.66111" stop-color="#381b67"/><stop offset="0.66111" stop-color="#351662"/><stop offset="0.88889" stop-color="#351662"/><stop offset="0.88889" stop-color="#33135f"/><stop offset="1.00000" stop-color="#33135f"/></linearGradient><linearGradient id="hm2_7" x1="0" y1="0" x2="1" y2="0"><stop offset="0.00000" stop-color="#351662"/><stop offset="0.22917" stop-color="#351662"/><stop offset="0.22917" stop-color="#ffffff"/><stop offset="0.27639" stop-color="#ffffff"/><stop offset="0.27639" stop-color="#351662"/><stop offset="0.32361" stop-color="#351662"/><stop offset="0.32361" stop-color="#8f86b8"/><stop offset="0.32639" stop-color="#8f86b8"/><stop offset="0.32639" stop-color="#351662"/><stop offset="0.34028" stop-color="#351662"/><stop offset="0.34028" stop-color="#ffffff"/><stop offset="0.35417" stop-color="#ffffff"/><stop offset="0.35417" stop-color="#351662"/><stop offset="0.88056" stop-color="#351662"/><stop offset="0.88056" stop-color="#ffffff"/><stop offset="0.89167" stop-color="#ffffff"/><stop offset="0.89167" stop-color="#351662"/><stop offset="1.00000" stop-color="#351662"/></linearGradient><linearGradient id="hm2_8" x1="0" y1="0" x2="1" y2="0"><stop offset="0.00000" stop-color="#351662"/><stop offset="0.21389" stop-color="#351662"/><stop offset="0.21389" stop-color="#3f3b86"/><stop offset="0.22639" stop-color="#3f3b86"/><stop offset="0.22639" stop-color="#ffffff"/><stop offset="0.27639" stop-color="#ffffff"/><stop offset="0.27639" stop-color="#351662"/><stop offset="0.28194" stop-color="#351662"/><stop offset="0.28194" stop-color="#ffffff"/><stop offset="0.35417" stop-color="#ffffff"/><stop offset="0.35417" stop-color="#351662"/><stop offset="0.64167" stop-color="#351662"/><stop offset="0.64167" stop-color="#ffffff"/><stop offset="0.64722" stop-color="#ffffff"/><stop offset="0.64722" stop-color="#351662"/><stop offset="0.73611" stop-color="#351662"/><stop offset="0.73611" stop-color="#ffffff"/><stop offset="0.74167" stop-color="#ffffff"/><stop offset="0.74167" stop-color="#351662"/><stop offset="0.88056" stop-color="#351662"/><stop offset="0.88056" stop-color="#ffffff"/><stop offset="0.88889" stop-color="#ffffff"/><stop offset="0.88889" stop-color="#351662"/><stop offset="1.00000" stop-color="#351662"/></linearGradient><linearGradient id="hm2_9" x1="0" y1="0" x2="1" y2="0"><stop offset="0.00000" stop-color="#351662"/><stop offset="0.17222" stop-color="#351662"/><stop offset="0.17222" stop-color="#ffffff"/><stop offset="0.21389" stop-color="#ffffff"/><stop offset="0.21389" stop-color="#3f3b86"/><stop offset="0.22639" stop-color="#3f3b86"/><stop offset="0.22639" stop-color="#ffffff"/><stop offset="0.33333" stop-color="#ffffff"/><stop offset="0.33333" stop-color="#351662"/><stop offset="0.34306" stop-color="#351662"/><stop offset="0.34306" stop-color="#ffffff"/><stop offset="0.35278" stop-color="#ffffff"/><stop offset="0.35278" stop-color="#351662"/><stop offset="0.35972" stop-color="#351662"/><stop offset="0.35972" stop-color="#ffffff"/><stop offset="0.36667" stop-color="#ffffff"/><stop offset="0.36667" stop-color="#351662"/><stop offset="0.62222" stop-color="#351662"/><stop offset="0.62222" stop-color="#ffffff"/><stop offset="0.62917" stop-color="#ffffff"/><stop offset="0.62917" stop-color="#351662"/><stop offset="0.88333" stop-color="#351662"/><stop offset="0.88333" stop-color="#ffffff"/><stop offset="0.89167" stop-color="#ffffff"/><stop offset="0.89167" stop-color="#351662"/><stop offset="1.00000" stop-color="#351662"/></linearGradient><pattern id="hm2_pa" width="29" height="1" patternUnits="userSpaceOnUse"><rect x="2.0" y="0" width="1.2" height="1" fill="#12162a"/><rect x="9.0" y="0" width="0.8" height="1" fill="#0d1122"/><rect x="17.0" y="0" width="2.0" height="1" fill="#10142a"/><rect x="24.0" y="0" width="1.0" height="1" fill="#0a0e1c"/></pattern><pattern id="hm2_pb" width="17" height="1" patternUnits="userSpaceOnUse" x="5"><rect x="4.0" y="0" width="1.0" height="1" fill="#080b1a"/><rect x="12.0" y="0" width="1.5" height="1" fill="#0b1028"/></pattern><filter id="hm2_bl" x="-2%" y="-2%" width="104%" height="104%"><feGaussianBlur stdDeviation="0.60"/></filter></defs><g filter="url(#hm2_bl)"><rect x="0" y="0.000" width="231.500" height="22.130" fill="url(#hm2_0)" shape-rendering="crispEdges"/><rect x="0" y="21.530" width="231.500" height="22.130" fill="url(#hm2_1)" shape-rendering="crispEdges"/><rect x="0" y="43.060" width="231.500" height="22.130" fill="url(#hm2_2)" shape-rendering="crispEdges"/><rect x="0" y="64.590" width="231.500" height="22.130" fill="url(#hm2_3)" shape-rendering="crispEdges"/><rect x="0" y="86.120" width="231.500" height="22.130" fill="url(#hm2_4)" shape-rendering="crispEdges"/><rect x="0" y="107.650" width="231.500" height="22.130" fill="url(#hm2_5)" shape-rendering="crispEdges"/><rect x="0" y="129.180" width="231.500" height="22.130" fill="url(#hm2_6)" shape-rendering="crispEdges"/><rect x="0" y="150.710" width="231.500" height="22.130" fill="url(#hm2_7)" shape-rendering="crispEdges"/><rect x="0" y="172.240" width="231.500" height="22.130" fill="url(#hm2_8)" shape-rendering="crispEdges"/><rect x="0" y="193.770" width="231.500" height="21.530" fill="url(#hm2_9)" shape-rendering="crispEdges"/><rect x="0" y="64.59" width="231.50" height="150.71" fill="url(#hm2_pa)" style="mix-blend-mode:screen"/><rect x="0" y="64.59" width="231.50" height="150.71" fill="url(#hm2_pb)" style="mix-blend-mode:screen"/><rect x="0" y="0" width="231.50" height="64.59" fill="url(#hm2_pa)" style="mix-blend-mode:screen" opacity="0.45"/></g></svg></div>
<div style="position:absolute;left:406.80px;top:6.40px;width:232.50px;height:216.30px;border:1px solid #111;box-sizing:border-box"></div>
<div style="position:absolute;left:403.80px;top:6.40px;width:3px;height:1px;background:#222"></div>
<div class="t" style="right:298.20px;top:7.20px;font-size:8.40px;transform:translateY(-50%)">90</div>
<div style="position:absolute;left:403.80px;top:49.46px;width:3px;height:1px;background:#222"></div>
<div class="t" style="right:298.20px;top:50.26px;font-size:8.40px;transform:translateY(-50%)">88</div>
<div style="position:absolute;left:403.80px;top:92.52px;width:3px;height:1px;background:#222"></div>
<div class="t" style="right:298.20px;top:93.32px;font-size:8.40px;transform:translateY(-50%)">86</div>
<div style="position:absolute;left:403.80px;top:135.58px;width:3px;height:1px;background:#222"></div>
<div class="t" style="right:298.20px;top:136.38px;font-size:8.40px;transform:translateY(-50%)">84</div>
<div style="position:absolute;left:403.80px;top:178.64px;width:3px;height:1px;background:#222"></div>
<div class="t" style="right:298.20px;top:179.44px;font-size:8.40px;transform:translateY(-50%)">82</div>
<div style="position:absolute;left:403.80px;top:221.70px;width:3px;height:1px;background:#222"></div>
<div class="t" style="right:298.20px;top:222.50px;font-size:8.40px;transform:translateY(-50%)">80</div>
<div style="position:absolute;left:406.80px;top:222.70px;width:1px;height:3px;background:#222"></div>
<div class="t" style="left:407.30px;top:228.00px;font-size:8.40px;transform:translateX(-50%)">0</div>
<div style="position:absolute;left:438.95px;top:222.70px;width:1px;height:3px;background:#222"></div>
<div class="t" style="left:439.45px;top:228.00px;font-size:8.40px;transform:translateX(-50%)">50</div>
<div style="position:absolute;left:471.11px;top:222.70px;width:1px;height:3px;background:#222"></div>
<div class="t" style="left:471.61px;top:228.00px;font-size:8.40px;transform:translateX(-50%)">100</div>
<div style="position:absolute;left:503.26px;top:222.70px;width:1px;height:3px;background:#222"></div>
<div class="t" style="left:503.76px;top:228.00px;font-size:8.40px;transform:translateX(-50%)">150</div>
<div style="position:absolute;left:535.41px;top:222.70px;width:1px;height:3px;background:#222"></div>
<div class="t" style="left:535.91px;top:228.00px;font-size:8.40px;transform:translateX(-50%)">200</div>
<div style="position:absolute;left:567.56px;top:222.70px;width:1px;height:3px;background:#222"></div>
<div class="t" style="left:568.06px;top:228.00px;font-size:8.40px;transform:translateX(-50%)">250</div>
<div style="position:absolute;left:599.72px;top:222.70px;width:1px;height:3px;background:#222"></div>
<div class="t" style="left:600.22px;top:228.00px;font-size:8.40px;transform:translateX(-50%)">300</div>
<div style="position:absolute;left:631.87px;top:222.70px;width:1px;height:3px;background:#222"></div>
<div class="t" style="left:632.37px;top:228.00px;font-size:8.40px;transform:translateX(-50%)">350</div>
<div class="t" style="left:523.05px;top:238.50px;font-size:8.40px;transform:translateX(-50%)">lon</div>
<div class="t" style="left:383.50px;top:114.55px;font-size:8.40px;transform:translate(-50%,-50%) rotate(-90deg)">lat</div>
<div style="position:absolute;left:653.30px;top:6.80px;width:11.00px;height:215.20px;background:linear-gradient(to bottom,#fae637 0.0%,#dde12a 5.0%,#bddc35 10.0%,#9dd548 15.0%,#80cc5d 20.0%,#6ec066 25.0%,#5eb26d 30.0%,#53a470 35.0%,#4e936e 40.0%,#488773 45.0%,#427e7a 50.0%,#3d7484 55.0%,#3a6b87 60.0%,#3b6188 65.0%,#3b5589 70.0%,#3d4989 75.0%,#3f3b86 80.0%,#402c7e 85.0%,#391e6a 90.0%,#32105c 95.0%,#2c0650 100.0%)"></div>
<div style="position:absolute;left:652.80px;top:6.30px;width:12.00px;height:216.20px;border:1px solid #333;box-sizing:border-box"></div>
<div style="position:absolute;left:664.80px;top:23.70px;width:3px;height:1px;background:#222"></div>
<div class="t" style="left:670.30px;top:23.90px;font-size:8.40px;transform:translateY(-50%)">1750</div>
<div style="position:absolute;left:664.80px;top:52.00px;width:3px;height:1px;background:#222"></div>
<div class="t" style="left:670.30px;top:52.20px;font-size:8.40px;transform:translateY(-50%)">1500</div>
<div style="position:absolute;left:664.80px;top:80.40px;width:3px;height:1px;background:#222"></div>
<div class="t" style="left:670.30px;top:80.60px;font-size:8.40px;transform:translateY(-50%)">1250</div>
<div style="position:absolute;left:664.80px;top:108.70px;width:3px;height:1px;background:#222"></div>
<div class="t" style="left:670.30px;top:108.90px;font-size:8.40px;transform:translateY(-50%)">1000</div>
<div style="position:absolute;left:664.80px;top:137.00px;width:3px;height:1px;background:#222"></div>
<div class="t" style="left:670.30px;top:137.20px;font-size:8.40px;transform:translateY(-50%)">750</div>
<div style="position:absolute;left:664.80px;top:165.40px;width:3px;height:1px;background:#222"></div>
<div class="t" style="left:670.30px;top:165.60px;font-size:8.40px;transform:translateY(-50%)">500</div>
<div style="position:absolute;left:664.80px;top:193.70px;width:3px;height:1px;background:#222"></div>
<div class="t" style="left:670.30px;top:193.90px;font-size:8.40px;transform:translateY(-50%)">250</div>
<div class="t" style="left:695.50px;top:115.00px;font-size:8.50px;transform:translate(-50%,-50%) rotate(-90deg)">Observation No.</div>
<div class="t" style="left:0.3px;top:4.6px;font-size:21px;color:#111">a)</div>
<div class="t" style="left:364.8px;top:4.6px;font-size:21px;color:#111">b)</div>
</div>
</body></html>
